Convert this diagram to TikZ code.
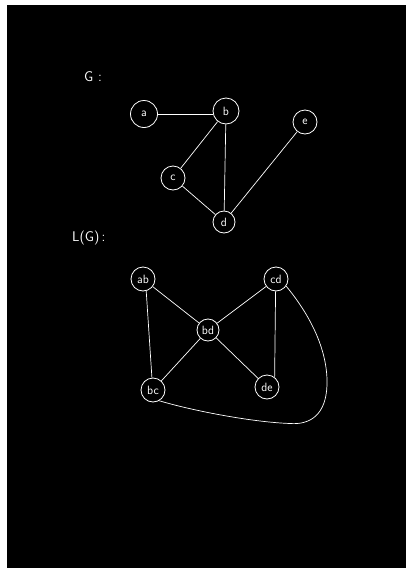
\documentclass[tikz,border=0pt]{standalone}
\begin{document}
\begin{tikzpicture}[x=1pt,y=-1pt,
  vtx/.style={circle,draw=white,line width=0.8pt,text=white,inner sep=0pt,font=\sffamily\fontsize{12}{12}\selectfont},
  edge/.style={draw=white,line width=0.7pt},
  lbl/.style={text=white,font=\sffamily\fontsize{14}{14}\selectfont,inner sep=0pt}]
\fill[white] (0,0) rectangle (406,568);
\fill[black] (7,5) rectangle (406,568);
\useasboundingbox (0,0) rectangle (406,568);
% G
\node[lbl,anchor=west] (gl) at (84,77) {G\,\,:};
\node[vtx,minimum size=27pt] (a) at (144,114) {a};
\node[vtx,minimum size=26pt] (b) at (226,111) {b};
\node[vtx,minimum size=24pt] (e) at (305,122) {e};
\node[vtx,minimum size=24pt] (c) at (173,178) {c};
\node[vtx,minimum size=22pt] (d) at (224,222) {d};
\draw[edge] (a.east) -- (a.east -| b.west);
\draw[edge] (b) -- (c);
\draw[edge] (b) -- (d);
\draw[edge] (c) -- (d);
\draw[edge] (d) -- (e);
% L(G)
\node[lbl,anchor=west] (lgl) at (72,238) {L(G)\,:};
\node[vtx,minimum size=24pt] (ab) at (143,279) {ab};
\node[vtx,minimum size=24pt] (cd) at (276,279) {cd};
\node[vtx,minimum size=22pt] (bd) at (208,330) {bd};
\node[vtx,minimum size=24pt] (bc) at (153,390) {bc};
\node[vtx,minimum size=24pt] (de) at (267,387) {de};
\draw[edge] (ab) -- (bd);
\draw[edge] (ab.-75) -- (bc.95);
\draw[edge] (bd) -- (cd);
\draw[edge] (bd) -- (bc);
\draw[edge] (bd) -- (de);
\draw[edge] (cd.-92) -- (de.52);
\draw[edge] (cd.-35) .. controls (310,315) and (328,350) .. (327,385)
  .. controls (326,415) and (310,425) .. (290,423.5)
  .. controls (250,422) and (190,410) .. (bc.-60);
\end{tikzpicture}
\end{document}
